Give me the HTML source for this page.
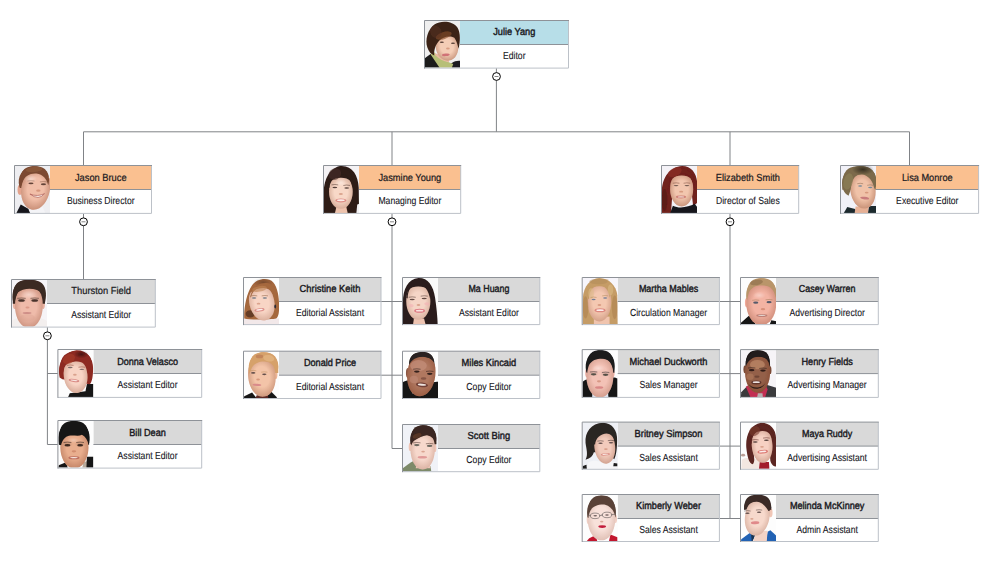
<!DOCTYPE html>
<html lang="en">
<head>
<meta charset="utf-8">
<title>Organization Chart</title>
<style>
html,body{margin:0;padding:0;background:#fff;}
body{width:990px;height:563px;overflow:hidden;font-family:"Liberation Sans",Arial,Helvetica,sans-serif;}
svg{display:block;}
.nm{font-size:10.2px;fill:#1a1a22;stroke:#1a1a22;stroke-width:0.42px;text-rendering:geometricPrecision;}
.nl{font-size:10.2px;fill:#1a1a22;stroke:#1a1a22;stroke-width:0.22px;text-rendering:geometricPrecision;}
.tt{font-size:10.2px;fill:#15151c;stroke:#15151c;stroke-width:0.1px;text-rendering:geometricPrecision;}
.ln{stroke:#808387;stroke-width:1;fill:none;}
.b1{fill:none;stroke:#8e9298;stroke-width:1;}
.b2{fill:none;stroke:#bcc1c8;stroke-width:1;}
.sp{stroke:#8e9298;stroke-width:1;}
.cb{fill:#fff;stroke:#000;stroke-width:1;}
.cm{stroke:#777;stroke-width:0.9;}
</style>
</head>
<body>
<svg width="990" height="563" viewBox="0 0 990 563" font-family="'Liberation Sans',Arial,Helvetica,sans-serif">
<rect width="990" height="563" fill="#fff"/>
<defs>
<filter id="b0" x="-20%" y="-20%" width="140%" height="140%"><feGaussianBlur stdDeviation="3.5"/></filter>
<filter id="b1" x="-20%" y="-20%" width="140%" height="140%"><feGaussianBlur stdDeviation="6"/></filter>
<radialGradient id="sh" cx=".5" cy=".45" r=".56"><stop offset=".5" stop-color="#7a3318" stop-opacity="0"/><stop offset="1" stop-color="#7a3318" stop-opacity=".38"/></radialGradient>
<radialGradient id="hl" cx=".5" cy=".5" r=".5"><stop offset="0" stop-color="#fff" stop-opacity=".5"/><stop offset="1" stop-color="#fff" stop-opacity="0"/></radialGradient>
<radialGradient id="dk" cx=".5" cy=".5" r=".5"><stop offset="0" stop-color="#000" stop-opacity=".55"/><stop offset="1" stop-color="#000" stop-opacity="0"/></radialGradient>
<filter id="b2" x="-20%" y="-20%" width="140%" height="140%"><feGaussianBlur stdDeviation="9"/></filter>
<filter id="b3" x="-30%" y="-30%" width="160%" height="160%"><feGaussianBlur stdDeviation="16"/></filter>
</defs>
<g class="ln">
<path d="M496.4 68.1L496.4 131.8"/>
<path d="M83.5 165.5L83.5 131.8L909.5 131.8L909.5 165.5"/>
<path d="M392 131.8L392 165.5"/>
<path d="M730 131.8L730 165.5"/>
<path d="M83.5 213.4L83.5 279.5"/>
<path d="M47.4 327.1L47.4 444.5L57.9 444.5"/>
<path d="M47.4 373.5L57.9 373.5"/>
<path d="M392 213.4L392 448.5L402.5 448.5"/>
<path d="M381 301.5L402.5 301.5"/>
<path d="M381 375.2L402.5 375.2"/>
<path d="M730 213.4L730 518.5"/>
<path d="M719.4 301.5L740.5 301.5"/>
<path d="M719.4 373.6L740.5 373.6"/>
<path d="M719.4 446.1L740.5 446.1"/>
<path d="M719.4 518.5L740.5 518.5"/>
</g>
<g id="n0">
<rect x="424.5" y="20.5" width="144" height="47.6" fill="#fff"/>
<rect x="460" y="20.5" width="108.5" height="24" fill="#b7dee8"/>
<clipPath id="c0"><rect x="425" y="21" width="35" height="46.6"/></clipPath>
<g clip-path="url(#c0)"><g transform="translate(422 18) scale(0.09244)">
<rect x="0" y="0" width="476" height="563" fill="#efefef"/><g filter="url(#b1)"><path d="M30,545 L30,435 C55,418 80,400 100,385 L215,545 Z" fill="#1b1b1d"/><path d="M270,545 C300,490 350,455 415,462 L415,545 Z" fill="#1d1d20"/><path d="M92,392 L128,368 C180,430 260,470 338,498 L320,545 L195,545 Z" fill="#b7bf78"/><path d="M140,380 L300,430 L290,480 C230,470 180,440 140,400 Z" fill="#e9b9a0"/><path d="M150,308 C150,213 184,182 272,182 C360,182 394,213 394,308 C394,385 348,462 272,462 C196,462 150,385 150,308 Z" fill="#f4cdb6" transform="rotate(-8 272 322)"/><path d="M150,308 C150,213 184,182 272,182 C360,182 394,213 394,308 C394,385 348,462 272,462 C196,462 150,385 150,308 Z" fill="url(#sh)" opacity="0.9" transform="rotate(-8 272 322)"/><path d="M58,320 C30,240 62,120 138,68 C205,24 335,30 385,105 C420,165 412,262 396,332 C385,300 378,250 350,215 C300,185 225,205 185,245 C150,285 128,335 132,405 C100,395 72,365 58,320 Z" fill="#3a2318"/><ellipse cx="235" cy="190" rx="90" ry="38" fill="#8a4f2c" transform="rotate(-18 235 190)" opacity="0.6"/><ellipse cx="150" cy="150" rx="60" ry="70" fill="#5a3220" transform="rotate(-30 150 150)" opacity="0.5"/><ellipse cx="215" cy="262" rx="22" ry="8" fill="#3b2620" opacity="0.85"/><ellipse cx="335" cy="272" rx="22" ry="8" fill="#3b2620" opacity="0.85"/><ellipse cx="280" cy="330" rx="20" ry="10" fill="#b5654a" opacity="0.45"/><ellipse cx="258" cy="398" rx="42" ry="14" fill="#d07276" transform="rotate(-5 258 398)"/></g>
</g></g>
<path class="sp" d="M460 44.5H568.5"/>
<path class="b2" d="M568.5 20.5V68.1H424.5"/>
<path class="b1" d="M424.5 68.6V20.5H569"/>
<text class="nm" transform="translate(514.25 35) scale(0.9027 1)" text-anchor="middle">Julie Yang</text>
<text class="tt" transform="translate(514.25 59) scale(0.847 1)" text-anchor="middle">Editor</text>
</g>
<g id="n1">
<rect x="14.5" y="165.5" width="137" height="47.9" fill="#fff"/>
<rect x="50" y="165.5" width="101.5" height="24" fill="#fac090"/>
<clipPath id="c1"><rect x="15" y="166" width="35" height="46.9"/></clipPath>
<g clip-path="url(#c1)"><g transform="translate(12 163) scale(0.09244)">
<rect x="0" y="0" width="476" height="563" fill="#eeeef1"/><g filter="url(#b1)"><path d="M45,545 L95,448 L185,500 L205,545 Z" fill="#15151a"/><path d="M178,500 L335,480 L360,545 L198,545 Z" fill="#f4f4f7"/><ellipse cx="86" cy="290" rx="26" ry="55" fill="#e3a28c"/><path d="M83,270 L83,240 C83,86 132,35 245,35 C358,35 407,86 407,240 L407,270 Z" fill="#7b4a31"/><path d="M97,277 C97,134 140,88 252,88 C364,88 407,134 407,277 C407,392 348,508 252,508 C156,508 97,392 97,277 Z" fill="#f1bea8" transform="rotate(10 252 298)"/><path d="M97,277 C97,134 140,88 252,88 C364,88 407,134 407,277 C407,392 348,508 252,508 C156,508 97,392 97,277 Z" fill="url(#sh)" opacity="0.9" transform="rotate(10 252 298)"/><path d="M80,255 C52,150 110,55 220,36 C318,26 388,80 400,170 C402,200 396,225 392,240 C375,172 335,125 265,114 C195,108 138,142 116,202 C106,224 100,248 94,270 Z" fill="#7b4a31"/><ellipse cx="240" cy="70" rx="90" ry="28" fill="#93603f" transform="rotate(-5 240 70)" opacity="0.6"/><ellipse cx="205" cy="220" rx="28" ry="10" fill="#4a2e26" opacity="0.85"/><ellipse cx="340" cy="230" rx="28" ry="10" fill="#4a2e26" opacity="0.85"/><path d="M171,194 q34,-8 68,0 M306,204 q34,-8 68,0" fill="none" stroke="#8a5a45" stroke-width="8" stroke-linecap="round" opacity="0.7"/><ellipse cx="285" cy="300" rx="24" ry="12" fill="#b5654a" opacity="0.45"/><path d="M198,338 Q275,368 352,332 Q290,412 198,338 Z" fill="#fbf3ee" stroke="#b0605a" stroke-width="8" stroke-linecap="round"/><ellipse cx="200" cy="170" rx="70" ry="45" fill="url(#hl)" opacity="0.8"/></g>
</g></g>
<path class="sp" d="M50 189.5H151.5"/>
<path class="b2" d="M151.5 165.5V213.4H14.5"/>
<path class="b1" d="M14.5 213.9V165.5H152"/>
<text class="nl" transform="translate(100.75 181) scale(0.9119 1)" text-anchor="middle">Jason Bruce</text>
<text class="tt" transform="translate(100.75 204) scale(0.847 1)" text-anchor="middle">Business Director</text>
</g>
<g id="n2">
<rect x="323.5" y="165.5" width="137.2" height="47.9" fill="#fff"/>
<rect x="359" y="165.5" width="101.7" height="24" fill="#fac090"/>
<clipPath id="c2"><rect x="324" y="166" width="35" height="46.9"/></clipPath>
<g clip-path="url(#c2)"><g transform="translate(321 163) scale(0.09244)">
<rect x="0" y="0" width="476" height="563" fill="#f4f2f4"/><g filter="url(#b1)"><path d="M30,545 L30,330 C28,200 80,60 205,33 C335,20 402,130 408,265 L412,545 Z" fill="#2d1d19"/><path d="M382,545 L392,450 L415,440 L415,545 Z" fill="#f4f2f4"/><path d="M150,545 L170,460 L270,460 L290,545 Z" fill="#eec3ad"/><path d="M87,311 C87,197 123,160 215,160 C307,160 343,197 343,311 C343,404 294,496 215,496 C136,496 87,404 87,311 Z" fill="#f8d8c7"/><path d="M87,311 C87,197 123,160 215,160 C307,160 343,197 343,311 C343,404 294,496 215,496 C136,496 87,404 87,311 Z" fill="url(#sh)" opacity="0.7"/><path d="M92,270 C92,185 150,125 255,118 C300,150 330,200 342,280 C356,200 350,118 272,68 C180,40 100,110 78,260 Z" fill="#2d1d19"/><ellipse cx="150" cy="120" rx="70" ry="60" fill="#4a2e26" transform="rotate(-30 150 120)" opacity="0.6"/><ellipse cx="150" cy="264" rx="26" ry="8" fill="#3b2622" opacity="0.85"/><ellipse cx="278" cy="270" rx="26" ry="8" fill="#3b2622" opacity="0.85"/><path d="M118,236 q32,-8 64,0 M246,242 q32,-8 64,0" fill="none" stroke="#4a302a" stroke-width="8" stroke-linecap="round" opacity="0.7"/><ellipse cx="215" cy="335" rx="22" ry="10" fill="#b5654a" opacity="0.45"/><ellipse cx="215" cy="405" rx="60" ry="21.6" fill="#d9837c" opacity="0.9"/><ellipse cx="215" cy="403.08" rx="42.0" ry="9.600000000000001" fill="#fff8f5" opacity="0.9"/><ellipse cx="215" cy="210" rx="60" ry="40" fill="url(#hl)" opacity="0.7"/></g>
</g></g>
<path class="sp" d="M359 189.5H460.7"/>
<path class="b2" d="M460.7 165.5V213.4H323.5"/>
<path class="b1" d="M323.5 213.9V165.5H461.2"/>
<text class="nl" transform="translate(409.85 181) scale(0.9086 1)" text-anchor="middle">Jasmine Young</text>
<text class="tt" transform="translate(409.85 204) scale(0.847 1)" text-anchor="middle">Managing Editor</text>
</g>
<g id="n3">
<rect x="661.5" y="165.5" width="137.2" height="47.9" fill="#fff"/>
<rect x="697" y="165.5" width="101.7" height="24" fill="#fac090"/>
<clipPath id="c3"><rect x="662" y="166" width="35" height="46.9"/></clipPath>
<g clip-path="url(#c3)"><g transform="translate(659 163) scale(0.09244)">
<rect x="0" y="0" width="476" height="563" fill="#f4f2f7"/><g filter="url(#b1)"><path d="M30,545 L30,300 C38,150 120,40 250,33 C350,33 402,110 412,200 L414,430 C400,445 385,455 370,470 L345,250 L150,250 L130,545 Z" fill="#6f201c"/><path d="M120,285 C120,171 155,134 245,134 C335,134 370,171 370,285 C370,378 322,470 245,470 C168,470 120,378 120,285 Z" fill="#f2c6ae"/><path d="M120,285 C120,171 155,134 245,134 C335,134 370,171 370,285 C370,378 322,470 245,470 C168,470 120,378 120,285 Z" fill="url(#sh)" opacity="0.9"/><path d="M108,310 C100,200 150,122 250,112 C330,112 372,180 378,295 C398,200 382,90 260,60 C150,60 90,180 98,330 Z" fill="#6f201c"/><ellipse cx="170" cy="100" rx="80" ry="45" fill="#93332a" transform="rotate(-25 170 100)" opacity="0.6"/><ellipse cx="60" cy="400" rx="30" ry="120" fill="#4a1412" opacity="0.5"/><path d="M120,545 L150,462 C220,498 320,478 385,442 L415,478 L415,545 Z" fill="#14171b"/><ellipse cx="185" cy="244" rx="26" ry="7" fill="#5a4640" opacity="0.85"/><ellipse cx="302" cy="244" rx="26" ry="7" fill="#5a4640" opacity="0.85"/><path d="M153,218 q32,-8 64,0 M270,218 q32,-8 64,0" fill="none" stroke="#7a4a3a" stroke-width="8" stroke-linecap="round" opacity="0.7"/><ellipse cx="240" cy="310" rx="22" ry="10" fill="#b5654a" opacity="0.45"/><ellipse cx="238" cy="368" rx="55" ry="15.3" fill="#c9736c" opacity="0.9"/><ellipse cx="238" cy="366.64" rx="38.5" ry="6.800000000000001" fill="#f6e6e0" opacity="0.9"/></g>
</g></g>
<path class="sp" d="M697 189.5H798.7"/>
<path class="b2" d="M798.7 165.5V213.4H661.5"/>
<path class="b1" d="M661.5 213.9V165.5H799.2"/>
<text class="nl" transform="translate(747.85 181) scale(0.9049 1)" text-anchor="middle">Elizabeth Smith</text>
<text class="tt" transform="translate(747.85 204) scale(0.847 1)" text-anchor="middle">Director of Sales</text>
</g>
<g id="n4">
<rect x="840.5" y="165.5" width="138.1" height="47.9" fill="#fff"/>
<rect x="876" y="165.5" width="102.6" height="24" fill="#fac090"/>
<clipPath id="c4"><rect x="841" y="166" width="35" height="46.9"/></clipPath>
<g clip-path="url(#c4)"><g transform="translate(838 163) scale(0.09244)">
<rect x="0" y="0" width="476" height="563" fill="#f1f1f8"/><g filter="url(#b1)"><path d="M60,545 L100,476 L185,498 L208,545 Z" fill="#1f2a2f"/><path d="M322,545 L335,466 L415,466 L415,545 Z" fill="#1f2a2f"/><path d="M180,545 L190,470 L330,470 L325,545 Z" fill="#e6b095"/><path d="M46,290 L46,250 C46,88 102,34 232,34 C362,34 418,88 418,250 L418,290 Z" fill="#7c6b4b"/><path d="M136,289 C136,163 174,122 272,122 C370,122 408,163 408,289 C408,392 356,494 272,494 C188,494 136,392 136,289 Z" fill="#f0c2a8" transform="rotate(-8 272 308)"/><path d="M136,289 C136,163 174,122 272,122 C370,122 408,163 408,289 C408,392 356,494 272,494 C188,494 136,392 136,289 Z" fill="url(#sh)" opacity="0.9" transform="rotate(-8 272 308)"/><path d="M48,255 C26,150 90,50 230,33 C340,28 414,90 414,190 C410,232 404,252 394,288 C384,202 334,132 254,122 C194,122 154,172 144,242 C139,292 124,334 114,354 C72,334 54,292 48,255 Z" fill="#7c6b4b"/><ellipse cx="110" cy="200" rx="50" ry="90" fill="#8f8258" transform="rotate(15 110 200)" opacity="0.6"/><ellipse cx="270" cy="70" rx="120" ry="60" fill="url(#dk)" opacity="1"/><ellipse cx="240" cy="249" rx="22" ry="8" fill="#5f7f95" opacity="0.85"/><ellipse cx="348" cy="266" rx="22" ry="8" fill="#5f7f95" opacity="0.85"/><path d="M212,223 q28,-8 56,0 M320,240 q28,-8 56,0" fill="none" stroke="#8a6a50" stroke-width="8" stroke-linecap="round" opacity="0.7"/><ellipse cx="310" cy="320" rx="20" ry="10" fill="#b5654a" opacity="0.45"/><ellipse cx="288" cy="380" rx="48" ry="14" fill="#c87c7c" transform="rotate(8 288 380)"/></g>
</g></g>
<path class="sp" d="M876 189.5H978.6"/>
<path class="b2" d="M978.6 165.5V213.4H840.5"/>
<path class="b1" d="M840.5 213.9V165.5H979.1"/>
<text class="nl" transform="translate(927.3 181) scale(0.9038 1)" text-anchor="middle">Lisa Monroe</text>
<text class="tt" transform="translate(927.3 204) scale(0.847 1)" text-anchor="middle">Executive Editor</text>
</g>
<g id="n5">
<rect x="11.5" y="279.5" width="143.8" height="47.6" fill="#fff"/>
<rect x="47" y="279.5" width="108.3" height="24" fill="#d9d9d9"/>
<clipPath id="c5"><rect x="12" y="280" width="35" height="46.6"/></clipPath>
<g clip-path="url(#c5)"><g transform="translate(9 277) scale(0.09244)">
<rect x="0" y="0" width="476" height="563" fill="#f6f4f7"/><g filter="url(#b1)"><path d="M30,545 L30,470 C70,450 100,440 130,450 L300,450 C350,440 390,460 415,480 L415,545 Z" fill="#f3efee"/><ellipse cx="60" cy="300" rx="18" ry="45" fill="#e8b1a0"/><ellipse cx="370" cy="300" rx="18" ry="45" fill="#e8b1a0"/><path d="M41,290 L41,232 C41,80 93,30 215,30 C337,30 389,80 389,232 L389,290 Z" fill="#3b2921"/><path d="M65,314 C65,167 107,120 215,120 C323,120 365,167 365,314 C365,432 308,550 215,550 C122,550 65,432 65,314 Z" fill="#efbbaa"/><path d="M65,314 C65,167 107,120 215,120 C323,120 365,167 365,314 C365,432 308,550 215,550 C122,550 65,432 65,314 Z" fill="url(#sh)" opacity="0.75"/><ellipse cx="215" cy="190" rx="90" ry="50" fill="url(#hl)" opacity="0.7"/><path d="M46,275 C28,200 40,120 90,68 C150,24 300,20 356,68 C412,120 406,222 386,290 C378,240 368,200 350,170 C300,112 150,112 96,168 C78,202 66,242 60,285 Z" fill="#3b2921"/><ellipse cx="135" cy="254" rx="36" ry="14" fill="#3a241e" opacity="0.85"/><ellipse cx="278" cy="254" rx="36" ry="14" fill="#3a241e" opacity="0.85"/><path d="M93,230 q42,-8 84,0 M236,230 q42,-8 84,0" fill="none" stroke="#3b2921" stroke-width="8" stroke-linecap="round" opacity="0.7"/><ellipse cx="135" cy="250" rx="60" ry="30" fill="url(#dk)" opacity="0.35"/><ellipse cx="278" cy="250" rx="60" ry="30" fill="url(#dk)" opacity="0.35"/><ellipse cx="200" cy="330" rx="22" ry="12" fill="#c97a68" opacity="0.5"/><ellipse cx="195" cy="390" rx="48" ry="11" fill="#cf8f88"/><ellipse cx="200" cy="440" rx="80" ry="40" fill="#d9a090" opacity="0.35"/></g>
</g></g>
<path class="sp" d="M47 303.5H155.3"/>
<path class="b2" d="M155.3 279.5V327.1H11.5"/>
<path class="b1" d="M11.5 327.6V279.5H155.8"/>
<text class="nl" transform="translate(101.15 294) scale(0.9174 1)" text-anchor="middle">Thurston Field</text>
<text class="tt" transform="translate(101.15 318) scale(0.847 1)" text-anchor="middle">Assistant Editor</text>
</g>
<g id="n6">
<rect x="57.9" y="349.5" width="143.8" height="47.9" fill="#fff"/>
<rect x="93.4" y="349.5" width="108.3" height="24" fill="#d9d9d9"/>
<clipPath id="c6"><rect x="58.4" y="350" width="35" height="46.9"/></clipPath>
<g clip-path="url(#c6)"><g transform="translate(55 347) scale(0.09244)">
<rect x="0" y="0" width="476" height="563" fill="#fdfdfd"/><g filter="url(#b1)"><path d="M140,545 L160,500 L330,480 L345,400 L415,400 L415,545 Z" fill="#141414"/><path d="M50,330 C20,200 80,60 230,35 C350,30 420,130 412,250 C410,320 400,380 380,400 C340,410 300,380 80,350 Z" fill="#8d2a22"/><path d="M97,311 C97,195 133,158 225,158 C317,158 353,195 353,311 C353,404 304,498 225,498 C146,498 97,404 97,311 Z" fill="#f8d4c5" transform="rotate(-6 225 328)"/><path d="M97,311 C97,195 133,158 225,158 C317,158 353,195 353,311 C353,404 304,498 225,498 C146,498 97,404 97,311 Z" fill="url(#sh)" opacity="0.7" transform="rotate(-6 225 328)"/><path d="M95,250 C95,170 150,135 240,135 C320,140 360,185 365,270 C385,330 380,380 360,400 C400,330 420,200 380,110 C320,30 180,20 100,90 C40,160 40,280 70,335 C80,300 90,270 95,250 Z" fill="#8d2a22"/><ellipse cx="150" cy="130" rx="70" ry="50" fill="#a83e2a" transform="rotate(-30 150 130)" opacity="0.6"/><ellipse cx="285" cy="78" rx="80" ry="45" fill="url(#dk)" opacity="0.9"/><ellipse cx="165" cy="222" rx="26" ry="8" fill="#6a5a5a" opacity="0.85"/><ellipse cx="290" cy="242" rx="26" ry="8" fill="#6a5a5a" opacity="0.85"/><path d="M133,198 q32,-8 64,0 M258,218 q32,-8 64,0" fill="none" stroke="#8d4a3a" stroke-width="8" stroke-linecap="round" opacity="0.7"/><ellipse cx="215" cy="300" rx="20" ry="10" fill="#b5654a" opacity="0.45"/><ellipse cx="205" cy="362" rx="58" ry="16.2" fill="#d4807a" transform="rotate(8 205 362)" opacity="0.9"/><ellipse cx="205" cy="360.56" rx="40.599999999999994" ry="7.2" fill="#fbeeea" transform="rotate(8 205 360.56)" opacity="0.9"/></g>
</g></g>
<path class="sp" d="M93.4 373.5H201.7"/>
<path class="b2" d="M201.7 349.5V397.4H57.9"/>
<path class="b1" d="M57.9 397.9V349.5H202.2"/>
<text class="nm" transform="translate(147.55 365) scale(0.8867 1)" text-anchor="middle">Donna Velasco</text>
<text class="tt" transform="translate(147.55 388) scale(0.847 1)" text-anchor="middle">Assistant Editor</text>
</g>
<g id="n7">
<rect x="57.9" y="420.5" width="143.8" height="47.6" fill="#fff"/>
<rect x="93.4" y="420.5" width="108.3" height="24" fill="#d9d9d9"/>
<clipPath id="c7"><rect x="58.4" y="421" width="35" height="46.6"/></clipPath>
<g clip-path="url(#c7)"><g transform="translate(55 418) scale(0.09244)">
<rect x="0" y="0" width="476" height="563" fill="#fdfdfd"/><g filter="url(#b1)"><path d="M30,545 L40,510 L120,480 L140,545 Z" fill="#161616"/><path d="M295,545 L305,480 L350,465 L350,545 Z" fill="#b7aa9c"/><path d="M340,545 L345,420 L415,420 L415,545 Z" fill="#151515"/><path d="M41,290 L41,245 C41,86 90,33 205,33 C320,33 369,86 369,245 L369,290 Z" fill="#141414"/><path d="M58,317 C58,176 101,130 210,130 C319,130 362,176 362,317 C362,432 304,546 210,546 C116,546 58,432 58,317 Z" fill="#e9ae8e"/><path d="M58,317 C58,176 101,130 210,130 C319,130 362,176 362,317 C362,432 304,546 210,546 C116,546 58,432 58,317 Z" fill="url(#sh)" opacity="0.9"/><path d="M43,285 C18,180 60,70 170,38 C270,20 352,80 370,170 C380,220 374,262 364,290 C352,242 332,202 292,182 C252,202 200,182 150,192 C110,202 80,232 65,295 Z" fill="#141414"/><ellipse cx="135" cy="294" rx="32" ry="13" fill="#2a1810" opacity="0.85"/><ellipse cx="272" cy="294" rx="32" ry="13" fill="#2a1810" opacity="0.85"/><path d="M97,264 q38,-8 76,0 M234,264 q38,-8 76,0" fill="none" stroke="#1e1410" stroke-width="8" stroke-linecap="round" opacity="0.7"/><ellipse cx="135" cy="285" rx="60" ry="30" fill="url(#dk)" opacity="0.3"/><ellipse cx="272" cy="285" rx="60" ry="30" fill="url(#dk)" opacity="0.3"/><ellipse cx="205" cy="360" rx="24" ry="12" fill="#b5654a" opacity="0.45"/><ellipse cx="205" cy="430" rx="60" ry="16.2" fill="#b8685a" opacity="0.9"/><ellipse cx="205" cy="428.56" rx="42.0" ry="7.2" fill="#fdf4ee" opacity="0.9"/><ellipse cx="200" cy="240" rx="60" ry="30" fill="url(#hl)" opacity="0.6"/></g>
</g></g>
<path class="sp" d="M93.4 444.5H201.7"/>
<path class="b2" d="M201.7 420.5V468.1H57.9"/>
<path class="b1" d="M57.9 468.6V420.5H202.2"/>
<text class="nm" transform="translate(147.55 436) scale(0.8965 1)" text-anchor="middle">Bill Dean</text>
<text class="tt" transform="translate(147.55 459) scale(0.847 1)" text-anchor="middle">Assistant Editor</text>
</g>
<g id="n8">
<rect x="243.5" y="277.5" width="137.5" height="47.1" fill="#fff"/>
<rect x="279" y="277.5" width="102" height="24" fill="#d9d9d9"/>
<clipPath id="c8"><rect x="244" y="278" width="35" height="46.1"/></clipPath>
<g clip-path="url(#c8)"><g transform="translate(241 275) scale(0.09244)">
<rect x="0" y="0" width="476" height="563" fill="#fdfdfd"/><g filter="url(#b1)"><path d="M30,545 L30,470 L415,470 L415,545 Z" fill="#f2e8e9"/><path d="M35,470 C30,350 60,200 120,110 C170,40 290,20 350,80 C400,140 415,250 412,360 C412,420 400,460 380,470 C330,480 100,490 35,470 Z" fill="#a5673e"/><ellipse cx="240" cy="80" rx="110" ry="50" fill="url(#dk)" opacity="0.5"/><ellipse cx="100" cy="420" rx="50" ry="40" fill="#3a2016" opacity="0.6"/><path d="M95,300 C95,182 133,143 230,143 C327,143 365,182 365,300 C365,397 314,493 230,493 C146,493 95,397 95,300 Z" fill="#f8d5c5" transform="rotate(-12 230 318)"/><path d="M95,300 C95,182 133,143 230,143 C327,143 365,182 365,300 C365,397 314,493 230,493 C146,493 95,397 95,300 Z" fill="url(#sh)" opacity="0.6" transform="rotate(-12 230 318)"/><path d="M108,235 C128,152 200,122 290,142 C340,162 372,212 382,265 C397,200 372,120 300,90 C200,70 120,130 98,245 Z" fill="#a5673e"/><ellipse cx="200" cy="150" rx="80" ry="30" fill="#c08555" transform="rotate(-10 200 150)" opacity="0.6"/><ellipse cx="142" cy="249" rx="24" ry="8" fill="#5a6a7a" opacity="0.85"/><ellipse cx="258" cy="249" rx="24" ry="8" fill="#5a6a7a" opacity="0.85"/><path d="M112,225 q30,-8 60,0 M228,225 q30,-8 60,0" fill="none" stroke="#8a5a3a" stroke-width="8" stroke-linecap="round" opacity="0.7"/><ellipse cx="190" cy="310" rx="20" ry="10" fill="#b5654a" opacity="0.45"/><ellipse cx="200" cy="378" rx="55" ry="18.0" fill="#d98a84" transform="rotate(-8 200 378)" opacity="0.9"/><ellipse cx="200" cy="376.4" rx="38.5" ry="8.0" fill="#fffaf7" transform="rotate(-8 200 376.4)" opacity="0.9"/><ellipse cx="370" cy="340" rx="10" ry="22" fill="#2a2a35"/></g>
</g></g>
<path class="sp" d="M279 301.5H381"/>
<path class="b2" d="M381 277.5V324.6H243.5"/>
<path class="b1" d="M243.5 325.1V277.5H381.5"/>
<text class="nm" transform="translate(330 292) scale(0.917 1)" text-anchor="middle">Christine Keith</text>
<text class="tt" transform="translate(330 316) scale(0.847 1)" text-anchor="middle">Editorial Assistant</text>
</g>
<g id="n9">
<rect x="402.5" y="277.5" width="137.3" height="47.1" fill="#fff"/>
<rect x="438" y="277.5" width="101.8" height="24" fill="#d9d9d9"/>
<clipPath id="c9"><rect x="403" y="278" width="35" height="46.1"/></clipPath>
<g clip-path="url(#c9)"><g transform="translate(400 275) scale(0.09244)">
<rect x="0" y="0" width="476" height="563" fill="#fafafa"/><g filter="url(#b1)"><path d="M32,545 L32,300 C30,150 90,40 200,33 C300,30 360,110 380,250 C395,350 405,450 408,545 Z" fill="#2b1d1b"/><path d="M140,545 L150,470 L260,470 L280,545 Z" fill="#eec4b2"/><path d="M68,287 C68,165 104,125 198,125 C292,125 328,165 328,287 C328,386 279,485 198,485 C117,485 68,386 68,287 Z" fill="#f5d5c6"/><path d="M68,287 C68,165 104,125 198,125 C292,125 328,165 328,287 C328,386 279,485 198,485 C117,485 68,386 68,287 Z" fill="url(#sh)" opacity="0.6"/><path d="M83,255 C83,162 120,112 190,97 C260,102 312,162 327,265 C347,200 332,110 260,60 C180,30 90,80 68,245 Z" fill="#2b1d1b"/><ellipse cx="132" cy="266" rx="28" ry="8" fill="#4a302a" opacity="0.85"/><ellipse cx="262" cy="254" rx="28" ry="8" fill="#4a302a" opacity="0.85"/><path d="M98,240 q34,-8 68,0 M228,228 q34,-8 68,0" fill="none" stroke="#4a302a" stroke-width="8" stroke-linecap="round" opacity="0.7"/><ellipse cx="200" cy="325" rx="20" ry="10" fill="#b5654a" opacity="0.45"/><ellipse cx="212" cy="388" rx="58" ry="21.6" fill="#d9717c" opacity="0.9"/><ellipse cx="212" cy="386.08" rx="40.599999999999994" ry="9.600000000000001" fill="#fdeeea" opacity="0.9"/><ellipse cx="120" cy="332" rx="28" ry="18" fill="#f4b0b4" opacity="0.6"/><ellipse cx="290" cy="312" rx="28" ry="18" fill="#f4b0b4" opacity="0.6"/></g>
</g></g>
<path class="sp" d="M438 301.5H539.8"/>
<path class="b2" d="M539.8 277.5V324.6H402.5"/>
<path class="b1" d="M402.5 325.1V277.5H540.3"/>
<text class="nm" transform="translate(488.9 292) scale(0.8683 1)" text-anchor="middle">Ma Huang</text>
<text class="tt" transform="translate(488.9 316) scale(0.847 1)" text-anchor="middle">Assistant Editor</text>
</g>
<g id="n10">
<rect x="243.5" y="351.2" width="137.5" height="47.3" fill="#fff"/>
<rect x="279" y="351.2" width="102" height="24" fill="#d9d9d9"/>
<clipPath id="c10"><rect x="244" y="351.7" width="35" height="46.3"/></clipPath>
<g clip-path="url(#c10)"><g transform="translate(241 349) scale(0.09244)">
<rect x="0" y="0" width="476" height="563" fill="#fdfdfd"/><g filter="url(#b1)"><path d="M30,545 L35,510 L120,470 L180,545 Z" fill="#151515"/><path d="M260,545 L320,455 L385,520 L395,545 Z" fill="#151515"/><path d="M150,545 L170,500 L290,500 L300,545 Z" fill="#5b2a26"/><ellipse cx="372" cy="280" rx="22" ry="45" fill="#eeb596"/><path d="M89,260 L89,232 C89,84 136,34 246,34 C356,34 403,84 403,232 L403,260 Z" fill="#d6a16b"/><path d="M80,298 C80,164 121,120 228,120 C335,120 376,164 376,298 C376,407 320,516 228,516 C136,516 80,407 80,298 Z" fill="#f3c4a8" transform="rotate(-6 228 318)"/><path d="M80,298 C80,164 121,120 228,120 C335,120 376,164 376,298 C376,407 320,516 228,516 C136,516 80,407 80,298 Z" fill="url(#sh)" opacity="0.8" transform="rotate(-6 228 318)"/><path d="M88,255 C68,150 110,60 220,35 C330,25 402,90 404,180 C406,220 397,242 382,255 C372,202 342,162 302,142 C232,122 152,142 117,202 C102,232 97,252 94,275 Z" fill="#d6a16b"/><ellipse cx="200" cy="80" rx="40" ry="20" fill="#b06a4a" opacity="0.5"/><ellipse cx="300" cy="100" rx="60" ry="35" fill="#e6bb85" transform="rotate(10 300 100)" opacity="0.6"/><ellipse cx="132" cy="259" rx="24" ry="9" fill="#4a3a3a" opacity="0.85"/><ellipse cx="252" cy="274" rx="24" ry="9" fill="#4a3a3a" opacity="0.85"/><path d="M102,235 q30,-8 60,0 M222,250 q30,-8 60,0" fill="none" stroke="#c09060" stroke-width="8" stroke-linecap="round" opacity="0.7"/><ellipse cx="185" cy="330" rx="20" ry="10" fill="#b5654a" opacity="0.45"/><ellipse cx="172" cy="388" rx="48" ry="12" fill="#d98a8a" transform="rotate(6 172 388)"/></g>
</g></g>
<path class="sp" d="M279 375.2H381"/>
<path class="b2" d="M381 351.2V398.5H243.5"/>
<path class="b1" d="M243.5 399V351.2H381.5"/>
<text class="nm" transform="translate(330 366) scale(0.8953 1)" text-anchor="middle">Donald Price</text>
<text class="tt" transform="translate(330 390) scale(0.847 1)" text-anchor="middle">Editorial Assistant</text>
</g>
<g id="n11">
<rect x="402.5" y="351.2" width="137.3" height="47.3" fill="#fff"/>
<rect x="438" y="351.2" width="101.8" height="24" fill="#d9d9d9"/>
<clipPath id="c11"><rect x="403" y="351.7" width="35" height="46.3"/></clipPath>
<g clip-path="url(#c11)"><g transform="translate(400 349) scale(0.09244)">
<rect x="0" y="0" width="476" height="563" fill="#fdfdfd"/><g filter="url(#b1)"><path d="M30,545 L30,360 C60,340 100,335 130,350 L130,545 Z" fill="#131313"/><path d="M290,545 L300,390 C340,360 390,350 415,355 L415,545 Z" fill="#131313"/><path d="M30,545 L30,480 L415,480 L415,545 Z" fill="#131313"/><ellipse cx="88" cy="260" rx="24" ry="55" fill="#8a5644"/><path d="M98,200 L98,200 C98,77 139,36 236,36 C333,36 374,77 374,200 L374,200 Z" fill="#2a2422"/><path d="M76,277 C76,131 119,84 228,84 C337,84 380,131 380,277 C380,394 322,512 228,512 C134,512 76,394 76,277 Z" fill="#b07860" transform="rotate(6 228 298)"/><path d="M76,277 C76,131 119,84 228,84 C337,84 380,131 380,277 C380,394 322,512 228,512 C134,512 76,394 76,277 Z" fill="url(#sh)" opacity="1" transform="rotate(6 228 298)"/><ellipse cx="200" cy="180" rx="90" ry="60" fill="#c48f7a" opacity="0.7"/><ellipse cx="150" cy="330" rx="45" ry="40" fill="#c08a78" opacity="0.6"/><path d="M100,170 C90,90 150,35 240,30 C320,30 370,80 372,150 C350,110 300,85 240,85 C170,88 125,120 100,170 Z" fill="#2a2422"/><ellipse cx="182" cy="244" rx="30" ry="12" fill="#1e1210" opacity="0.85"/><ellipse cx="322" cy="268" rx="30" ry="12" fill="#1e1210" opacity="0.85"/><path d="M146,218 q36,-8 72,0 M286,242 q36,-8 72,0" fill="none" stroke="#1e1210" stroke-width="8" stroke-linecap="round" opacity="0.7"/><ellipse cx="255" cy="320" rx="30" ry="14" fill="#5a3028" opacity="0.5"/><ellipse cx="238" cy="388" rx="66" ry="25.2" fill="#6a3a32" transform="rotate(6 238 388)" opacity="0.9"/><ellipse cx="238" cy="385.76" rx="46.199999999999996" ry="11.200000000000001" fill="#fdf6f2" transform="rotate(6 238 385.76)" opacity="0.9"/></g>
</g></g>
<path class="sp" d="M438 375.2H539.8"/>
<path class="b2" d="M539.8 351.2V398.5H402.5"/>
<path class="b1" d="M402.5 399V351.2H540.3"/>
<text class="nm" transform="translate(488.9 366) scale(0.9096 1)" text-anchor="middle">Miles Kincaid</text>
<text class="tt" transform="translate(488.9 390) scale(0.847 1)" text-anchor="middle">Copy Editor</text>
</g>
<g id="n12">
<rect x="402.5" y="424.5" width="137.3" height="47.2" fill="#fff"/>
<rect x="438" y="424.5" width="101.8" height="24" fill="#d9d9d9"/>
<clipPath id="c12"><rect x="403" y="425" width="35" height="46.2"/></clipPath>
<g clip-path="url(#c12)"><g transform="translate(400 422) scale(0.09244)">
<rect x="0" y="0" width="476" height="563" fill="#f0f2f7"/><g filter="url(#b1)"><path d="M30,545 L30,500 C70,470 110,440 140,425 L330,480 L340,545 Z" fill="#7d8a69"/><ellipse cx="112" cy="270" rx="18" ry="45" fill="#efc3b3"/><ellipse cx="378" cy="280" rx="16" ry="45" fill="#efc3b3"/><path d="M170,500 L180,440 L320,440 L330,500 Z" fill="#ecc4b6"/><path d="M114,242 L114,222 C114,81 156,34 254,34 C352,34 394,81 394,222 L394,242 Z" fill="#3a2620"/><path d="M113,298 C113,166 150,123 245,123 C340,123 377,166 377,298 C377,406 327,513 245,513 C163,513 113,406 113,298 Z" fill="#f7d8cc"/><path d="M113,298 C113,166 150,123 245,123 C340,123 377,166 377,298 C377,406 327,513 245,513 C163,513 113,406 113,298 Z" fill="url(#sh)" opacity="0.6"/><path d="M116,235 C93,140 140,50 240,35 C330,28 392,90 394,170 C394,200 390,217 384,230 C372,182 342,152 292,142 C242,152 192,172 152,202 C137,217 127,232 124,255 Z" fill="#3a2620"/><ellipse cx="185" cy="150" rx="50" ry="25" fill="#6a3e2a" transform="rotate(-20 185 150)" opacity="0.6"/><ellipse cx="182" cy="249" rx="30" ry="12" fill="#55554c" opacity="0.85"/><ellipse cx="320" cy="259" rx="30" ry="12" fill="#55554c" opacity="0.85"/><path d="M146,225 q36,-8 72,0 M284,235 q36,-8 72,0" fill="none" stroke="#4a3028" stroke-width="8" stroke-linecap="round" opacity="0.7"/><ellipse cx="250" cy="320" rx="20" ry="10" fill="#b5654a" opacity="0.45"/><ellipse cx="242" cy="382" rx="52" ry="14" fill="#e09a98"/></g>
</g></g>
<path class="sp" d="M438 448.5H539.8"/>
<path class="b2" d="M539.8 424.5V471.7H402.5"/>
<path class="b1" d="M402.5 472.2V424.5H540.3"/>
<text class="nm" transform="translate(488.9 439) scale(0.9197 1)" text-anchor="middle">Scott Bing</text>
<text class="tt" transform="translate(488.9 463) scale(0.847 1)" text-anchor="middle">Copy Editor</text>
</g>
<g id="n13">
<rect x="582.2" y="277.5" width="137.2" height="47.1" fill="#fff"/>
<rect x="617.7" y="277.5" width="101.7" height="24" fill="#d9d9d9"/>
<clipPath id="c13"><rect x="582.7" y="278" width="35" height="46.1"/></clipPath>
<g clip-path="url(#c13)"><g transform="translate(580 275) scale(0.09244)">
<rect x="0" y="0" width="476" height="563" fill="#f7f5fb"/><g filter="url(#b1)"><path d="M30,545 L30,250 C40,120 110,40 210,33 C310,35 390,110 405,220 L410,545 Z" fill="#c59c66"/><path d="M150,545 L150,450 L320,450 L320,545 Z" fill="#f0c4ae"/><path d="M82,293 C82,164 118,122 210,122 C302,122 338,164 338,293 C338,398 289,502 210,502 C131,502 82,398 82,293 Z" fill="#f4c8b1"/><path d="M82,293 C82,164 118,122 210,122 C302,122 338,164 338,293 C338,398 289,502 210,502 C131,502 82,398 82,293 Z" fill="url(#sh)" opacity="0.7"/><path d="M98,255 C98,172 140,122 200,112 C270,117 312,162 322,245 C347,180 322,90 230,60 C140,60 80,130 83,265 Z" fill="#c59c66"/><ellipse cx="60" cy="350" rx="30" ry="120" fill="#a97c4a" opacity="0.5"/><ellipse cx="375" cy="350" rx="30" ry="130" fill="#a97c4a" opacity="0.5"/><ellipse cx="200" cy="70" rx="100" ry="30" fill="#b08a58" opacity="0.5"/><ellipse cx="120" cy="200" rx="30" ry="60" fill="#e0c08a" opacity="0.5"/><ellipse cx="330" cy="160" rx="30" ry="60" fill="#e0c08a" opacity="0.5"/><ellipse cx="147" cy="266" rx="22" ry="8" fill="#5a7090" opacity="0.85"/><ellipse cx="272" cy="249" rx="22" ry="8" fill="#5a7090" opacity="0.85"/><path d="M119,242 q28,-8 56,0 M244,225 q28,-8 56,0" fill="none" stroke="#b08a58" stroke-width="8" stroke-linecap="round" opacity="0.7"/><ellipse cx="210" cy="325" rx="20" ry="10" fill="#b5654a" opacity="0.45"/><ellipse cx="217" cy="382" rx="58" ry="21.6" fill="#d9807a" opacity="0.9"/><ellipse cx="217" cy="380.08" rx="40.599999999999994" ry="9.600000000000001" fill="#fffaf8" opacity="0.9"/></g>
</g></g>
<path class="sp" d="M617.7 301.5H719.4"/>
<path class="b2" d="M719.4 277.5V324.6H582.2"/>
<path class="b1" d="M582.2 325.1V277.5H719.9"/>
<text class="nm" transform="translate(668.55 292) scale(0.8807 1)" text-anchor="middle">Martha Mables</text>
<text class="tt" transform="translate(668.55 316) scale(0.847 1)" text-anchor="middle">Circulation Manager</text>
</g>
<g id="n14">
<rect x="740.5" y="277.5" width="137.8" height="47.1" fill="#fff"/>
<rect x="776" y="277.5" width="102.3" height="24" fill="#d9d9d9"/>
<clipPath id="c14"><rect x="741" y="278" width="35" height="46.1"/></clipPath>
<g clip-path="url(#c14)"><g transform="translate(738 275) scale(0.09244)">
<rect x="0" y="0" width="476" height="563" fill="#fdfdfd"/><g filter="url(#b1)"><path d="M30,545 L30,520 L130,430 L200,545 Z" fill="#121212"/><path d="M340,545 L360,490 L415,500 L415,545 Z" fill="#121212"/><ellipse cx="95" cy="300" rx="20" ry="50" fill="#f0a898"/><path d="M94,262 L94,242 C94,86 142,34 254,34 C366,34 414,86 414,242 L414,262 Z" fill="#b9956a"/><path d="M90,306 C90,160 135,113 252,113 C369,113 414,160 414,306 C414,425 352,543 252,543 C152,543 90,425 90,306 Z" fill="#f3b3a3"/><path d="M90,306 C90,160 135,113 252,113 C369,113 414,160 414,306 C414,425 352,543 252,543 C152,543 90,425 90,306 Z" fill="url(#sh)" opacity="0.8"/><path d="M93,255 C73,150 130,50 240,35 C340,30 412,90 414,180 C414,210 412,227 407,245 C396,170 356,120 292,108 C222,100 150,125 118,190 C107,227 102,247 100,270 Z" fill="#b9956a"/><ellipse cx="200" cy="80" rx="70" ry="30" fill="#8a6a4a" transform="rotate(-10 200 80)" opacity="0.6"/><ellipse cx="192" cy="299" rx="28" ry="12" fill="#3a4a60" opacity="0.85"/><ellipse cx="336" cy="294" rx="28" ry="12" fill="#3a4a60" opacity="0.85"/><path d="M158,273 q34,-8 68,0 M302,268 q34,-8 68,0" fill="none" stroke="#a07a58" stroke-width="8" stroke-linecap="round" opacity="0.7"/><ellipse cx="270" cy="370" rx="24" ry="12" fill="#b5654a" opacity="0.45"/><ellipse cx="258" cy="438" rx="60" ry="16.2" fill="#b87a70" opacity="0.9"/><ellipse cx="258" cy="436.56" rx="42.0" ry="7.2" fill="#e8e0da" opacity="0.9"/><ellipse cx="230" cy="220" rx="70" ry="40" fill="url(#hl)" opacity="0.7"/></g>
</g></g>
<path class="sp" d="M776 301.5H878.3"/>
<path class="b2" d="M878.3 277.5V324.6H740.5"/>
<path class="b1" d="M740.5 325.1V277.5H878.8"/>
<text class="nm" transform="translate(827.15 292) scale(0.8754 1)" text-anchor="middle">Casey Warren</text>
<text class="tt" transform="translate(827.15 316) scale(0.847 1)" text-anchor="middle">Advertising Director</text>
</g>
<g id="n15">
<rect x="582.2" y="349.6" width="137.2" height="47.8" fill="#fff"/>
<rect x="617.7" y="349.6" width="101.7" height="24" fill="#d9d9d9"/>
<clipPath id="c15"><rect x="582.7" y="350.1" width="35" height="46.8"/></clipPath>
<g clip-path="url(#c15)"><g transform="translate(580 348) scale(0.09244)">
<rect x="0" y="0" width="476" height="563" fill="#fdfdfd"/><g filter="url(#b1)"><path d="M25,545 L25,370 C50,340 90,330 120,345 L140,545 Z" fill="#141416"/><path d="M300,545 L320,330 C350,310 385,320 405,330 L405,545 Z" fill="#141416"/><path d="M130,545 L140,470 L300,470 L310,545 Z" fill="#dfe4ef"/><ellipse cx="72" cy="270" rx="16" ry="45" fill="#eab0a5"/><ellipse cx="358" cy="270" rx="16" ry="45" fill="#eab0a5"/><path d="M68,267 L68,242 C68,78 114,24 220,24 C326,24 372,78 372,242 L372,267 Z" fill="#1c1c1e"/><path d="M69,304 C69,160 110,113 215,113 C320,113 361,160 361,304 C361,420 306,537 215,537 C124,537 69,420 69,304 Z" fill="#f3c2b6"/><path d="M69,304 C69,160 110,113 215,113 C320,113 361,160 361,304 C361,420 306,537 215,537 C124,537 69,420 69,304 Z" fill="url(#sh)" opacity="0.7"/><path d="M68,255 C43,150 90,50 200,25 C300,20 367,80 374,170 C377,210 372,242 364,265 C356,190 326,135 272,115 C202,105 128,125 98,185 C87,217 80,242 78,270 Z" fill="#1c1c1e"/><ellipse cx="147" cy="285" rx="30" ry="12" fill="#4a4a40" opacity="0.85"/><ellipse cx="277" cy="290" rx="30" ry="12" fill="#4a4a40" opacity="0.85"/><path d="M111,259 q36,-8 72,0 M241,264 q36,-8 72,0" fill="none" stroke="#2a2224" stroke-width="8" stroke-linecap="round" opacity="0.7"/><ellipse cx="147" cy="280" rx="55" ry="28" fill="url(#dk)" opacity="0.3"/><ellipse cx="277" cy="284" rx="55" ry="28" fill="url(#dk)" opacity="0.3"/><ellipse cx="205" cy="360" rx="22" ry="12" fill="#b5654a" opacity="0.45"/><ellipse cx="207" cy="428" rx="45" ry="14" fill="#d98886"/><ellipse cx="200" cy="220" rx="70" ry="40" fill="url(#hl)" opacity="0.8"/></g>
</g></g>
<path class="sp" d="M617.7 373.6H719.4"/>
<path class="b2" d="M719.4 349.6V397.4H582.2"/>
<path class="b1" d="M582.2 397.9V349.6H719.9"/>
<text class="nm" transform="translate(668.55 365) scale(0.9046 1)" text-anchor="middle">Michael Duckworth</text>
<text class="tt" transform="translate(668.55 388) scale(0.847 1)" text-anchor="middle">Sales Manager</text>
</g>
<g id="n16">
<rect x="740.5" y="349.6" width="137.8" height="47.8" fill="#fff"/>
<rect x="776" y="349.6" width="102.3" height="24" fill="#d9d9d9"/>
<clipPath id="c16"><rect x="741" y="350.1" width="35" height="46.8"/></clipPath>
<g clip-path="url(#c16)"><g transform="translate(738 348) scale(0.09244)">
<rect x="0" y="0" width="476" height="563" fill="#f6f4f7"/><g filter="url(#b1)"><path d="M30,545 L35,480 L100,410 L150,545 Z" fill="#3a3a3e"/><path d="M270,545 L300,395 L415,430 L415,545 Z" fill="#3a3a3e"/><path d="M85,420 L130,390 L300,400 L320,450 L290,545 L140,545 Z" fill="#c22f52"/><path d="M205,545 L215,490 L265,490 L270,545 Z" fill="#b5aeae"/><ellipse cx="75" cy="230" rx="16" ry="42" fill="#7a4a35"/><ellipse cx="348" cy="240" rx="14" ry="42" fill="#7a4a35"/><path d="M83,202 L83,192 C83,66 123,24 215,24 C307,24 347,66 347,192 L347,202 Z" fill="#201a1a"/><path d="M77,268 C77,136 115,93 212,93 C309,93 347,136 347,268 C347,376 296,483 212,483 C128,483 77,376 77,268 Z" fill="#94614a"/><path d="M77,268 C77,136 115,93 212,93 C309,93 347,136 347,268 C347,376 296,483 212,483 C128,483 77,376 77,268 Z" fill="url(#sh)" opacity="1"/><ellipse cx="210" cy="180" rx="80" ry="50" fill="#bf8a68" opacity="0.7"/><ellipse cx="130" cy="310" rx="40" ry="35" fill="#b88060" opacity="0.5"/><path d="M85,200 C70,110 120,35 210,25 C290,25 340,80 345,160 C330,120 290,95 220,95 C150,98 105,140 85,200 Z" fill="#201a1a"/><path d="M110,380 C140,440 260,450 300,370 C280,420 240,440 200,440 C160,440 130,420 110,380 Z" fill="#2a1c18"/><ellipse cx="148" cy="240" rx="30" ry="12" fill="#1e1210" opacity="0.85"/><ellipse cx="270" cy="244" rx="30" ry="12" fill="#1e1210" opacity="0.85"/><path d="M112,216 q36,-8 72,0 M234,220 q36,-8 72,0" fill="none" stroke="#1e1412" stroke-width="8" stroke-linecap="round" opacity="0.7"/><ellipse cx="205" cy="310" rx="28" ry="12" fill="#4a2a20" opacity="0.5"/><ellipse cx="198" cy="372" rx="55" ry="21.6" fill="#5a3028" opacity="0.9"/><ellipse cx="198" cy="370.08" rx="38.5" ry="9.600000000000001" fill="#fdf6f4" opacity="0.9"/></g>
</g></g>
<path class="sp" d="M776 373.6H878.3"/>
<path class="b2" d="M878.3 349.6V397.4H740.5"/>
<path class="b1" d="M740.5 397.9V349.6H878.8"/>
<text class="nm" transform="translate(827.15 365) scale(0.8967 1)" text-anchor="middle">Henry Fields</text>
<text class="tt" transform="translate(827.15 388) scale(0.847 1)" text-anchor="middle">Advertising Manager</text>
</g>
<g id="n17">
<rect x="582.2" y="422.1" width="137.2" height="47.2" fill="#fff"/>
<rect x="617.7" y="422.1" width="101.7" height="24" fill="#d9d9d9"/>
<clipPath id="c17"><rect x="582.7" y="422.6" width="35" height="46.2"/></clipPath>
<g clip-path="url(#c17)"><g transform="translate(580 420) scale(0.09244)">
<rect x="0" y="0" width="476" height="563" fill="#eef0f5"/><g filter="url(#b1)"><path d="M70,545 L90,460 C150,430 200,440 260,470 L340,440 L405,470 L405,545 Z" fill="#f6f6f8"/><path d="M25,545 L25,500 L70,485 L75,545 Z" fill="#1a1a1a"/><path d="M360,500 L365,465 L405,470 L405,500 Z" fill="#1a1a1a"/><path d="M60,250 C50,130 120,35 250,30 C350,35 405,110 402,220 C400,300 395,380 370,425 C340,400 330,380 320,350 L150,350 C140,390 110,420 60,430 C90,380 70,320 60,250 Z" fill="#2c2624"/><path d="M158,292 C158,179 189,143 270,143 C351,143 382,179 382,292 C382,382 339,473 270,473 C201,473 158,382 158,292 Z" fill="#f2cbbc" transform="rotate(-6 270 308)"/><path d="M158,292 C158,179 189,143 270,143 C351,143 382,179 382,292 C382,382 339,473 270,473 C201,473 158,382 158,292 Z" fill="url(#sh)" opacity="0.7" transform="rotate(-6 270 308)"/><path d="M163,265 C168,192 220,152 290,142 C350,152 382,202 387,265 C402,200 382,110 300,80 C210,70 150,140 148,265 Z" fill="#2c2624"/><ellipse cx="222" cy="252" rx="24" ry="8" fill="#4a3a3a" opacity="0.85"/><ellipse cx="335" cy="247" rx="24" ry="8" fill="#4a3a3a" opacity="0.85"/><path d="M192,228 q30,-8 60,0 M305,223 q30,-8 60,0" fill="none" stroke="#3a2c2a" stroke-width="8" stroke-linecap="round" opacity="0.7"/><ellipse cx="280" cy="315" rx="20" ry="10" fill="#b5654a" opacity="0.45"/><ellipse cx="275" cy="372" rx="50" ry="12.6" fill="#d98a80" transform="rotate(-5 275 372)" opacity="0.9"/><ellipse cx="275" cy="370.88" rx="35.0" ry="5.6000000000000005" fill="#fdf4f0" transform="rotate(-5 275 370.88)" opacity="0.9"/></g>
</g></g>
<path class="sp" d="M617.7 446.1H719.4"/>
<path class="b2" d="M719.4 422.1V469.3H582.2"/>
<path class="b1" d="M582.2 469.8V422.1H719.9"/>
<text class="nm" transform="translate(668.55 437) scale(0.9151 1)" text-anchor="middle">Britney Simpson</text>
<text class="tt" transform="translate(668.55 461) scale(0.847 1)" text-anchor="middle">Sales Assistant</text>
</g>
<g id="n18">
<rect x="740.5" y="422.1" width="137.8" height="47.2" fill="#fff"/>
<rect x="776" y="422.1" width="102.3" height="24" fill="#d9d9d9"/>
<clipPath id="c18"><rect x="741" y="422.6" width="35" height="46.2"/></clipPath>
<g clip-path="url(#c18)"><g transform="translate(738 420) scale(0.09244)">
<rect x="0" y="0" width="476" height="563" fill="#fdfdfd"/><g filter="url(#b1)"><path d="M35,545 L40,430 C80,400 150,400 230,440 L240,545 Z" fill="#f3e7e1"/><path d="M225,545 L235,455 L335,455 L340,545 Z" fill="#a21a2c"/><path d="M90,300 C80,170 130,50 250,30 C350,30 410,100 412,200 L412,500 C390,510 360,480 350,440 L340,300 L160,300 C170,380 190,440 160,480 C120,470 100,400 90,300 Z" fill="#5b2520"/><path d="M150,275 C150,158 181,120 262,120 C343,120 374,158 374,275 C374,369 331,464 262,464 C193,464 150,369 150,275 Z" fill="#f6d1c3" transform="rotate(-4 262 292)"/><path d="M150,275 C150,158 181,120 262,120 C343,120 374,158 374,275 C374,369 331,464 262,464 C193,464 150,369 150,275 Z" fill="url(#sh)" opacity="0.7" transform="rotate(-4 262 292)"/><path d="M148,255 C148,172 190,112 260,97 C320,102 362,142 377,225 C397,150 362,70 270,55 C180,60 130,140 133,265 Z" fill="#5b2520"/><ellipse cx="180" cy="120" rx="60" ry="50" fill="#7a3a2e" transform="rotate(-30 180 120)" opacity="0.6"/><ellipse cx="187" cy="239" rx="26" ry="8" fill="#3a2826" opacity="0.85"/><ellipse cx="307" cy="219" rx="26" ry="8" fill="#3a2826" opacity="0.85"/><path d="M155,215 q32,-8 64,0 M275,195 q32,-8 64,0" fill="none" stroke="#5b2520" stroke-width="8" stroke-linecap="round" opacity="0.7"/><ellipse cx="260" cy="290" rx="20" ry="10" fill="#b5654a" opacity="0.45"/><ellipse cx="267" cy="343" rx="58" ry="19.8" fill="#d9706a" transform="rotate(-6 267 343)" opacity="0.9"/><ellipse cx="267" cy="341.24" rx="40.599999999999994" ry="8.8" fill="#fffaf8" transform="rotate(-6 267 341.24)" opacity="0.9"/><ellipse cx="55" cy="380" rx="22" ry="14" fill="#7a4030" opacity="0.5"/></g>
</g></g>
<path class="sp" d="M776 446.1H878.3"/>
<path class="b2" d="M878.3 422.1V469.3H740.5"/>
<path class="b1" d="M740.5 469.8V422.1H878.8"/>
<text class="nm" transform="translate(827.15 437) scale(0.8798 1)" text-anchor="middle">Maya Ruddy</text>
<text class="tt" transform="translate(827.15 461) scale(0.847 1)" text-anchor="middle">Advertising Assistant</text>
</g>
<g id="n19">
<rect x="582.2" y="494.5" width="137.2" height="47" fill="#fff"/>
<rect x="617.7" y="494.5" width="101.7" height="24" fill="#d9d9d9"/>
<clipPath id="c19"><rect x="582.7" y="495" width="35" height="46"/></clipPath>
<g clip-path="url(#c19)"><g transform="translate(580 492) scale(0.09244)">
<rect x="0" y="0" width="476" height="563" fill="#fdfdfd"/><g filter="url(#b1)"><path d="M60,545 L100,500 L170,465 L190,545 Z" fill="#c2182f"/><path d="M310,545 L330,460 L405,490 L405,545 Z" fill="#c2182f"/><ellipse cx="88" cy="300" rx="16" ry="45" fill="#f2d0c6"/><ellipse cx="385" cy="290" rx="16" ry="45" fill="#f2d0c6"/><path d="M82,272 L82,262 C82,95 128,39 234,39 C340,39 386,95 386,262 L386,272 Z" fill="#5a4339"/><path d="M82,286 C82,140 124,93 232,93 C340,93 382,140 382,286 C382,405 325,523 232,523 C139,523 82,405 82,286 Z" fill="#f8e1da"/><path d="M82,286 C82,140 124,93 232,93 C340,93 382,140 382,286 C382,405 325,523 232,523 C139,523 82,405 82,286 Z" fill="url(#sh)" opacity="0.5"/><path d="M83,275 C58,160 110,60 220,40 C320,35 382,100 387,200 C388,230 386,252 382,267 C367,202 332,152 272,137 C202,132 142,152 112,202 C100,227 94,252 92,280 Z" fill="#5a4339"/><path d="M110,258 a52,30 0 1,0 104,0 a52,30 0 1,0 -104,0 M240,248 a52,30 0 1,0 104,0 a52,30 0 1,0 -104,0 M214,255 L240,250 M110,255 L90,245 M344,245 L380,240" fill="none" stroke="#5a5454" stroke-width="8" stroke-linecap="round" opacity="0.8"/><ellipse cx="165" cy="257" rx="20" ry="8" fill="#5a4a4a" opacity="0.85"/><ellipse cx="292" cy="248" rx="20" ry="8" fill="#5a4a4a" opacity="0.85"/><ellipse cx="235" cy="320" rx="18" ry="10" fill="#b5654a" opacity="0.45"/><ellipse cx="240" cy="374" rx="42" ry="15" fill="#c21f3c"/></g>
</g></g>
<path class="sp" d="M617.7 518.5H719.4"/>
<path class="b2" d="M719.4 494.5V541.5H582.2"/>
<path class="b1" d="M582.2 542V494.5H719.9"/>
<text class="nm" transform="translate(668.55 509) scale(0.8977 1)" text-anchor="middle">Kimberly Weber</text>
<text class="tt" transform="translate(668.55 533) scale(0.847 1)" text-anchor="middle">Sales Assistant</text>
</g>
<g id="n20">
<rect x="740.5" y="494.5" width="137.8" height="47" fill="#fff"/>
<rect x="776" y="494.5" width="102.3" height="24" fill="#d9d9d9"/>
<clipPath id="c20"><rect x="741" y="495" width="35" height="46"/></clipPath>
<g clip-path="url(#c20)"><g transform="translate(738 492) scale(0.09244)">
<rect x="0" y="0" width="476" height="563" fill="#fdfdfd"/><g filter="url(#b1)"><path d="M30,545 L35,510 L160,420 L190,460 L150,545 Z" fill="#2262b4"/><path d="M300,545 L320,430 L350,415 L412,470 L412,545 Z" fill="#2262b4"/><path d="M150,545 L190,460 L165,425 L140,445 Z" fill="#1a2a3a" opacity="0.8"/><path d="M160,545 L200,420 L320,420 L310,545 Z" fill="#f3d3c6"/><ellipse cx="352" cy="225" rx="22" ry="48" fill="#f0c6b6"/><path d="M65,192 L65,192 C65,70 109,29 213,29 C317,29 361,70 361,192 L361,192 Z" fill="#3a2a26"/><path d="M73,270 C73,144 110,103 205,103 C300,103 337,144 337,270 C337,371 287,473 205,473 C123,473 73,371 73,270 Z" fill="#f7d9cc" transform="rotate(10 205 288)"/><path d="M73,270 C73,144 110,103 205,103 C300,103 337,144 337,270 C337,371 287,473 205,473 C123,473 73,371 73,270 Z" fill="url(#sh)" opacity="0.6" transform="rotate(10 205 288)"/><path d="M68,195 C58,110 110,40 210,30 C300,28 352,90 360,170 C347,202 337,212 327,202 C302,152 262,112 202,102 C142,102 95,142 68,195 Z" fill="#3a2a26"/><ellipse cx="102" cy="229" rx="24" ry="8" fill="#4a3a38" opacity="0.85"/><ellipse cx="228" cy="219" rx="24" ry="8" fill="#4a3a38" opacity="0.85"/><path d="M72,205 q30,-8 60,0 M198,195 q30,-8 60,0" fill="none" stroke="#4a3a38" stroke-width="8" stroke-linecap="round" opacity="0.7"/><ellipse cx="150" cy="290" rx="18" ry="10" fill="#b5654a" opacity="0.45"/><ellipse cx="185" cy="332" rx="46" ry="16" fill="#e0898a" transform="rotate(-4 185 332)"/></g>
</g></g>
<path class="sp" d="M776 518.5H878.3"/>
<path class="b2" d="M878.3 494.5V541.5H740.5"/>
<path class="b1" d="M740.5 542V494.5H878.8"/>
<text class="nm" transform="translate(827.15 509) scale(0.8953 1)" text-anchor="middle">Melinda McKinney</text>
<text class="tt" transform="translate(827.15 533) scale(0.847 1)" text-anchor="middle">Admin Assistant</text>
</g>
<g><circle class="cb" cx="496.5" cy="76.5" r="3.9"/><path class="cm" d="M494.5 76.5H498.5"/></g>
<g><circle class="cb" cx="83.5" cy="221.8" r="3.9"/><path class="cm" d="M81.5 221.8H85.5"/></g>
<g><circle class="cb" cx="392" cy="221.8" r="3.9"/><path class="cm" d="M390 221.8H394"/></g>
<g><circle class="cb" cx="730" cy="221.8" r="3.9"/><path class="cm" d="M728 221.8H732"/></g>
<g><circle class="cb" cx="47.4" cy="335.8" r="3.9"/><path class="cm" d="M45.4 335.8H49.4"/></g>
</svg>
</body>
</html>
